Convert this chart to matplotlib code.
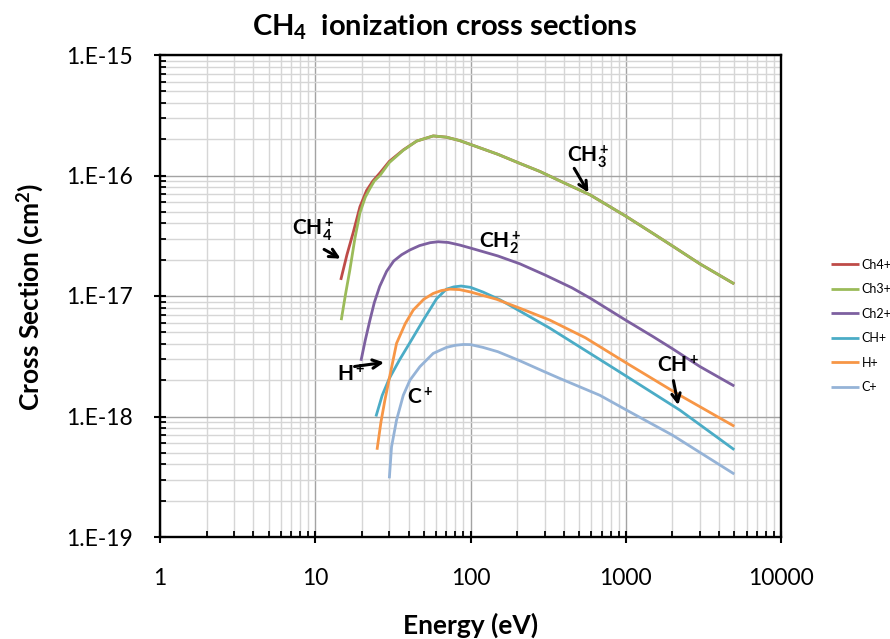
import matplotlib
matplotlib.use("Agg")
import matplotlib.pyplot as plt
from matplotlib.ticker import LogLocator, NullFormatter, FixedLocator

plt.rcParams['font.family'] = ['Lato', 'DejaVu Sans']
plt.rcParams['mathtext.fontset'] = 'custom'
plt.rcParams['mathtext.rm'] = 'Lato'
plt.rcParams['mathtext.it'] = 'Lato:italic'
plt.rcParams['mathtext.bf'] = 'Lato:bold'

# ---- cross section data (energy in eV, cross section in cm^2) ----
ch4_energy = [14.6, 16, 17.6, 19.4, 21.4, 23.5, 26.1, 30, 36.9, 45, 57.5, 70, 85, 100, 150, 208, 280, 400, 590,
              1000, 1500, 2000, 3000, 5000]
ch4_sigma = [1.36e-17, 2.2e-17, 3.4e-17, 5.5e-17, 7.5e-17, 9.0e-17, 1.05e-16, 1.31e-16, 1.63e-16, 1.93e-16, 2.13e-16,
             2.08e-16, 1.95e-16, 1.81e-16, 1.5e-16, 1.26e-16, 1.08e-16, 8.7e-17, 6.9e-17,
             4.6e-17, 3.3e-17, 2.6e-17, 1.85e-17, 1.26e-17]

ch3_energy = [14.7, 15.7, 16.7, 18, 19.4, 21, 22.5, 24, 26.1, 30, 36.9, 45, 57.5, 70, 85, 100, 150, 208, 280, 400, 590,
              1000, 1500, 2000, 3000, 5000]
ch3_sigma = [6.3e-18, 1.05e-17, 1.64e-17, 3.0e-17, 4.9e-17, 6.6e-17, 7.8e-17, 9.0e-17, 1.0e-16, 1.28e-16, 1.62e-16,
             1.93e-16, 2.13e-16, 2.08e-16, 1.95e-16, 1.81e-16, 1.5e-16, 1.26e-16, 1.08e-16, 8.7e-17, 6.9e-17,
             4.6e-17, 3.3e-17, 2.6e-17, 1.85e-17, 1.26e-17]

ch2_energy = [19.7, 21, 22.5, 24, 26, 28.8, 32, 36, 40.7, 47, 55, 62, 72, 85, 100, 150, 208, 300, 450, 590,
              1000, 1500, 2000, 3000, 5000]
ch2_sigma = [2.9e-18, 4.3e-18, 6.3e-18, 8.8e-18, 1.2e-17, 1.6e-17, 1.95e-17, 2.2e-17, 2.41e-17, 2.62e-17, 2.77e-17,
             2.82e-17, 2.78e-17, 2.65e-17, 2.5e-17, 2.15e-17, 1.85e-17, 1.5e-17, 1.17e-17, 9.6e-18,
             6.3e-18, 4.6e-18, 3.65e-18, 2.6e-18, 1.79e-18]

ch_energy = [24.6, 27, 30, 35, 40.7, 50, 60.5, 70, 78, 87, 100, 120, 155, 325, 873, 2230, 5000]
ch_sigma = [1.0e-18, 1.5e-18, 2.07e-18, 2.97e-18, 4.1e-18, 6.4e-18, 9.5e-18, 1.14e-17, 1.19e-17, 1.21e-17, 1.18e-17,
            1.08e-17, 9.3e-18, 5.4e-18, 2.43e-18, 1.13e-18, 5.3e-19]

h_energy = [25, 26.5, 28.1, 30, 33.4, 38, 42.8, 50, 57.5, 65, 73.6, 85, 100, 147, 220, 325, 550, 1000, 2230, 5000]
h_sigma = [5.3e-19, 9.0e-19, 1.37e-18, 2.07e-18, 4.05e-18, 5.9e-18, 7.65e-18, 9.4e-18, 1.05e-17, 1.11e-17, 1.14e-17,
           1.13e-17, 1.08e-17, 9.4e-18, 7.7e-18, 6.3e-18, 4.5e-18, 2.8e-18, 1.5e-18, 8.3e-19]

c_energy = [30, 31, 33.4, 36.9, 40.7, 47.2, 57.5, 70.2, 80, 90, 100, 120, 150, 208, 300, 376, 681, 1012, 2000, 5000]
c_sigma = [3.07e-19, 5.6e-19, 9.35e-19, 1.5e-18, 2.0e-18, 2.59e-18, 3.34e-18, 3.75e-18, 3.9e-18, 3.96e-18, 3.95e-18,
           3.75e-18, 3.45e-18, 2.9e-18, 2.35e-18, 2.07e-18, 1.5e-18, 1.13e-18, 7.0e-19, 3.33e-19]

series_names = ['Ch4+', 'Ch3+', 'Ch2+', 'CH+', 'H+', 'C+']
series_colors = ['#BE4B48', '#9BBB59', '#7D60A0', '#4BACC6', '#F79646', '#95B3D7']

x_ticks = [1, 10, 100, 1000, 10000]
x_tick_labels = ['1', '10', '100', '1000', '10000']
y_ticks = [1e-19, 1e-18, 1e-17, 1e-16, 1e-15]
y_tick_labels = ['1.E-19', '1.E-18', '1.E-17', '1.E-16', '1.E-15']

fig = plt.figure(figsize=(8.9, 6.39), dpi=100)
ax = fig.add_axes([160 / 890, 1 - 537 / 639, 621 / 890, 482 / 639])

series = [(ch4_energy, ch4_sigma), (ch3_energy, ch3_sigma), (ch2_energy, ch2_sigma),
          (ch_energy, ch_sigma), (h_energy, h_sigma), (c_energy, c_sigma)]
for (e, s), name, col in zip(series, series_names, series_colors):
    ax.plot(e, s, color=col, lw=2.0, label=name, solid_capstyle='butt', solid_joinstyle='round')

ax.set_xscale('log')
ax.set_yscale('log')
ax.set_xlim(1, 10000)
ax.set_ylim(1e-19, 1e-15)

ax.xaxis.set_major_locator(FixedLocator(x_ticks))
ax.set_xticklabels(x_tick_labels)
ax.yaxis.set_major_locator(FixedLocator(y_ticks))
ax.set_yticklabels(y_tick_labels)
ax.xaxis.set_minor_locator(LogLocator(base=10, subs=range(2, 10), numticks=20))
ax.yaxis.set_minor_locator(LogLocator(base=10, subs=range(2, 10), numticks=20))
ax.xaxis.set_minor_formatter(NullFormatter())
ax.yaxis.set_minor_formatter(NullFormatter())

ax.set_axisbelow(True)
ax.grid(which='major', color='#A3A3A3', lw=1.0)
ax.grid(which='minor', color='#D6D6D6', lw=1.0)

for sp in ax.spines.values():
    sp.set_linewidth(1.7)
    sp.set_color('black')

ax.tick_params(which='major', direction='inout', length=9, width=1.5, labelsize=16.5, colors='black')
ax.tick_params(which='minor', direction='in', length=4, width=1.3)
ax.tick_params(axis='x', which='major', pad=18)
ax.tick_params(axis='y', which='major', pad=15)

fig.text(0.5, 1 - 27 / 639, r'$\mathbf{CH_4}$  ionization cross sections', fontsize=21, fontweight='bold',
         ha='center', va='center')

ax.set_xlabel('Energy (eV)', fontsize=19, fontweight='bold')
ax.xaxis.label.set_va('center')
ax.xaxis.set_label_coords(0.5, -(625 - 537) / 482)
ax.set_ylabel(r'Cross Section (cm$^\mathbf{2}$)', fontsize=19, fontweight='bold')
ax.yaxis.label.set_va('center')
ax.yaxis.set_label_coords(-(160 - 30) / 621, (537 - 297) / 482)

# labels with arrows pointing at the curves
arrow = dict(arrowstyle='->', lw=2.2, color='black', mutation_scale=15)
lab = dict(fontsize=15, fontweight='bold', ha='center', va='center')

ax.text(9.67, 3.53e-17, r'$\mathbf{CH_4^+}$', **lab)
ax.annotate('', xy=(15.1, 1.99e-17), xytext=(11.0, 2.5e-17), arrowprops=arrow)

ax.text(570, 1.42e-16, r'$\mathbf{CH_3^+}$', **lab)
ax.annotate('', xy=(587, 6.9e-17), xytext=(456, 1.2e-16), arrowprops=arrow)

ax.text(154.6, 2.75e-17, r'$\mathbf{CH_2^+}$', **lab)

ax.text(17.0, 2.21e-18, r'$\mathbf{H^+}$', **lab)
ax.annotate('', xy=(28.9, 2.83e-18), xytext=(17.2, 2.58e-18), arrowprops=arrow)

ax.text(47.2, 1.43e-18, r'$\mathbf{C^+}$', **lab)

ax.text(2164, 2.62e-18, r'$\mathbf{CH^+}$', **lab)
ax.annotate('', xy=(2198, 1.18e-18), xytext=(2011, 2.09e-18), arrowprops=arrow)

fig.legend(loc='center left', bbox_to_anchor=(826 / 890, 1 - 326 / 639), frameon=False,
           fontsize=9, handlelength=2.2, handletextpad=0.25, labelspacing=1.0, borderaxespad=0)

fig.savefig('out.png', dpi=100)
